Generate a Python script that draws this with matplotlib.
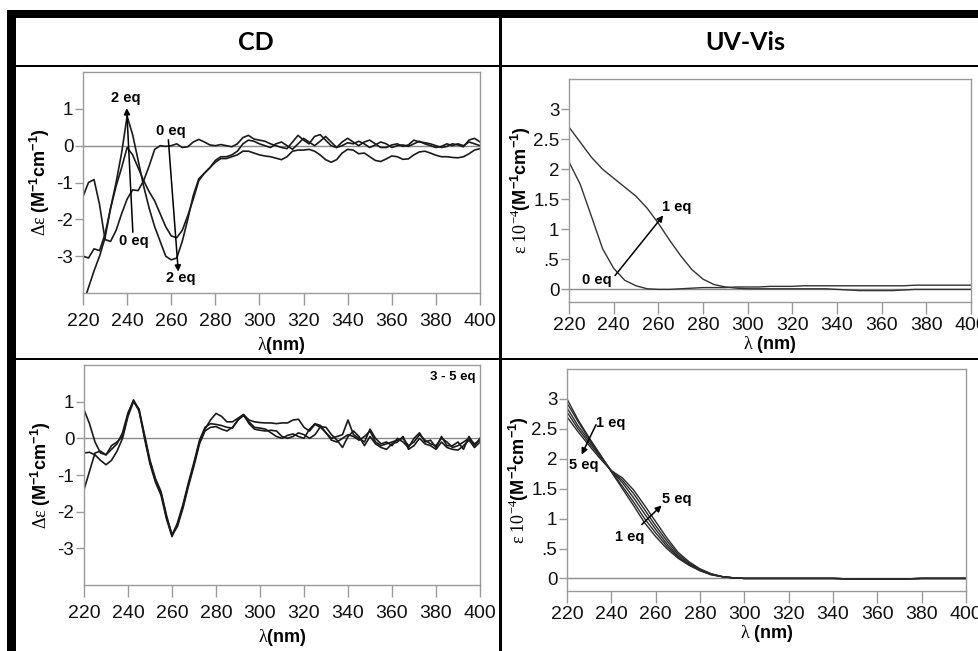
import numpy as np
import matplotlib
matplotlib.use("Agg")
import matplotlib.pyplot as plt
from matplotlib.patches import Rectangle
from matplotlib.ticker import FixedLocator, FixedFormatter

plt.rcParams['font.family'] = ['Liberation Sans', 'DejaVu Sans']
plt.rcParams['mathtext.fontset'] = 'custom'
plt.rcParams['mathtext.rm'] = 'Liberation Serif'
plt.rcParams['mathtext.it'] = 'Liberation Serif:italic'
plt.rcParams['mathtext.bf'] = 'Liberation Sans:bold'
plt.rcParams['mathtext.sf'] = 'Liberation Sans'

# ---------------- data ----------------
# CD, 0-2 eq (wavelength grid 220..400 step 2.5 nm)
cd_wl = np.arange(220, 400.01, 2.5)
cd_0eq = [-1.38, -1.0, -0.92, -1.6, -2.55, -2.6, -2.3, -1.85, -1.45, -1.2, -1.22, -0.95,
          -0.55, -0.1, 0.0, -0.02, 0.0, 0.05, -0.05, -0.03, 0.1, 0.17, 0.1, 0.02, 0.0,
          0.03, 0.0, -0.03, 0.05, 0.22, 0.28, 0.18, 0.15,
          0.12, 0.05, 0.0, -0.05, -0.08, 0.1, 0.28, 0.15, 0.05, 0.25, 0.3, 0.15, 0.0,
          -0.05, 0.1, 0.2, 0.1, 0.0, 0.1, 0.15, 0.05, -0.05, -0.05, 0.02, 0.05, -0.02,
          0.02, 0.15, 0.1, 0.08, 0.05, 0.0, -0.05, -0.02, 0.05, 0.02, -0.03, 0.15, 0.2, 0.1]
cd_1eq = [-3.0, -3.05, -2.8, -2.85, -2.4, -1.7, -1.1, -0.6, -0.05, -0.25, -0.6, -0.95,
          -1.25, -1.5, -1.85, -2.2, -2.45, -2.5, -2.3, -1.9, -1.45, -0.95, -0.75, -0.6,
          -0.4, -0.3, -0.3, -0.25, -0.15, 0.05, 0.15, 0.12, 0.05,
          0.0, -0.05, 0.05, 0.1, 0.0, -0.1, 0.05, 0.2, 0.1, 0.0, 0.12, 0.25, 0.1, -0.05,
          0.0, 0.08, 0.05, 0.12, 0.05, -0.05, 0.02, 0.1, 0.05, -0.05, 0.0, 0.02, -0.02,
          0.05, 0.12, 0.05, 0.0, -0.05, -0.02, 0.05, 0.0, 0.05, 0.0, 0.1, 0.05, 0.0]
cd_2eq = [-4.3, -3.85, -3.4, -3.0, -2.5, -1.7, -1.0, -0.2, 0.8, 0.3, -0.4, -1.1, -1.7,
          -2.2, -2.6, -3.0, -3.1, -3.05, -2.6, -2.0, -1.35, -0.9, -0.75, -0.6, -0.45,
          -0.35, -0.35, -0.3, -0.25, -0.15, -0.15, -0.2, -0.25,
          -0.28, -0.3, -0.34, -0.38, -0.3, -0.15, -0.12, -0.12, -0.1, -0.15, -0.25,
          -0.38, -0.45, -0.38, -0.2, -0.1, -0.12, -0.22, -0.2, -0.3, -0.4, -0.43, -0.36,
          -0.28, -0.3, -0.37, -0.36, -0.25, -0.17, -0.15, -0.2, -0.26, -0.3, -0.3, -0.32,
          -0.33, -0.3, -0.22, -0.12, -0.08]

# CD, 3-5 eq
cd_3eq = [0.78, 0.4, -0.1, -0.4, -0.45, -0.3, -0.15, 0.15, 0.7, 1.02, 0.75, 0.05, -0.65,
          -1.15, -1.5, -2.15, -2.62, -2.35, -1.85, -1.25, -0.7, -0.1, 0.25, 0.5, 0.68,
          0.6, 0.45, 0.45, 0.55, 0.65, 0.5, 0.45, 0.43,
          0.42, 0.42, 0.4, 0.42, 0.42, 0.5, 0.52, 0.3, 0.2, 0.38, 0.3, 0.15, 0.0, 0.05,
          0.1, 0.5, 0.1, 0.0, -0.1, 0.25, 0.0, -0.15, -0.1, -0.2, 0.0, -0.1, -0.25, 0.0,
          0.15, -0.1, -0.05, -0.25, 0.05, -0.2, -0.2, -0.1, -0.3, 0.05, -0.2, 0.0]
cd_4eq = [-0.4, -0.38, -0.45, -0.6, -0.72, -0.6, -0.35, 0.0, 0.6, 1.0, 0.8, 0.1, -0.6,
          -1.1, -1.45, -2.1, -2.65, -2.4, -1.9, -1.3, -0.75, -0.15, 0.2, 0.3, 0.32, 0.25,
          0.2, 0.3, 0.5, 0.62, 0.45, 0.3, 0.28,
          0.25, 0.15, 0.05, 0.0, 0.08, 0.12, 0.05, 0.0, 0.25, 0.4, 0.35, 0.15, -0.05,
          -0.1, 0.0, 0.1, 0.05, -0.05, 0.05, 0.2, -0.1, -0.2, -0.15, -0.1, -0.05, 0.0,
          -0.2, -0.1, 0.1, -0.05, -0.15, -0.2, 0.0, -0.1, -0.25, -0.2, -0.1, 0.0, -0.15, -0.05]
cd_5eq = [-1.4, -0.9, -0.4, -0.35, -0.45, -0.2, -0.1, 0.05, 0.65, 1.05, 0.78, 0.0, -0.7,
          -1.2, -1.55, -2.2, -2.68, -2.3, -1.8, -1.2, -0.65, -0.05, 0.3, 0.4, 0.38, 0.35,
          0.3, 0.28, 0.5, 0.65, 0.4, 0.25, 0.22,
          0.2, 0.22, 0.2, 0.05, 0.0, 0.05, 0.15, 0.1, 0.0, 0.1, 0.32, 0.3, 0.1, -0.05,
          -0.25, 0.05, 0.2, 0.05, -0.2, 0.05, -0.15, -0.25, -0.3, -0.15, -0.1, 0.05, -0.3,
          -0.2, 0.0, -0.15, -0.2, -0.3, -0.1, -0.25, -0.3, -0.32, -0.2, -0.05, -0.25, -0.1]

# UV-Vis (wavelength grid 220..400 step 5 nm), values in 10^4 M-1 cm-1
uv_wl = np.arange(220, 400.01, 5)
uv_0eq = [2.12, 1.75, 1.22, 0.68, 0.35, 0.15, 0.06, 0.01, 0.0, 0.0, 0.01, 0.02, 0.03,
          0.03, 0.03, 0.04, 0.04, 0.04, 0.05, 0.05, 0.05, 0.06, 0.06, 0.06, 0.06, 0.06,
          0.06, 0.06, 0.06, 0.06, 0.06, 0.07, 0.07, 0.07, 0.07, 0.07, 0.07]
uv_1eq_a = [2.7, 2.45, 2.2, 2.0, 1.85, 1.7, 1.55, 1.35, 1.1, 0.82, 0.56, 0.33, 0.17,
            0.08, 0.04, 0.02, 0.01, 0.01, 0.01, 0.01, 0.01, 0.01, 0.01, 0.01, 0.0, -0.01,
            -0.02, -0.02, -0.02, -0.02, -0.01, 0.0, 0.0, 0.0, 0.0, 0.0, 0.0]

uv_tail = [0.0, 0.0, 0.0, 0.0, 0.0, 0.0, 0.0, 0.0, -0.005, -0.01, -0.01, -0.01, -0.01,
           -0.01, -0.005, 0.0, 0.0, 0.0, 0.0, 0.0]
uv_1eq = [3.0, 2.65, 2.35, 2.07, 1.78, 1.5, 1.22, 0.93, 0.7, 0.5, 0.34, 0.22, 0.13,
          0.06, 0.03, 0.01, 0.0]
uv_2eq = [2.93, 2.62, 2.33, 2.06, 1.79, 1.54, 1.28, 1.0, 0.76, 0.54, 0.36, 0.23, 0.13,
          0.065, 0.03, 0.01, 0.0]
uv_3eq = [2.85, 2.55, 2.3, 2.05, 1.8, 1.6, 1.35, 1.08, 0.82, 0.58, 0.38, 0.24, 0.14,
          0.07, 0.03, 0.01, 0.0]
uv_4eq = [2.78, 2.5, 2.26, 2.03, 1.8, 1.64, 1.42, 1.15, 0.88, 0.63, 0.41, 0.26, 0.15,
          0.075, 0.03, 0.01, 0.0]
uv_5eq = [2.7, 2.45, 2.22, 2.0, 1.8, 1.68, 1.48, 1.22, 0.95, 0.68, 0.44, 0.28, 0.16,
          0.08, 0.03, 0.01, 0.0]

x_ticks = [220, 240, 260, 280, 300, 320, 340, 360, 380, 400]
cd_yticks = [-3, -2, -1, 0, 1]
cd_ylabels = ['-3', '-2', '-1', '0', '1']
uv_yticks = [0, 0.5, 1, 1.5, 2, 2.5, 3]
uv_ylabels = ['0', '.5', '1', '1.5', '2', '2.5', '3']

# ---------------- figure ----------------
W, H = 979, 651
fig = plt.figure(figsize=(W / 100, H / 100), dpi=100)
fig.patch.set_facecolor('white')


def ax_px(x0, y0, x1, y1):
    return fig.add_axes([x0 / W, 1 - y1 / H, (x1 - x0) / W, (y1 - y0) / H])


def rect_px(x0, y0, x1, y1):
    fig.add_artist(Rectangle((x0 / W, 1 - y1 / H), (x1 - x0) / W, (y1 - y0) / H,
                             transform=fig.transFigure, facecolor='black',
                             edgecolor='none', zorder=20))


SPINE = '#9a9a9a'
LINE = '#1a1a1a'


def style(ax, kind):
    ax.set_xlim(220, 400)
    for s in ax.spines.values():
        s.set_color(SPINE)
        s.set_linewidth(1.0)
    ax.xaxis.set_major_locator(FixedLocator(x_ticks))
    ax.tick_params(axis='x', direction='out', length=8.5, width=1.0, color=SPINE,
                   labelsize=14, pad=6 if kind == 'cd' else 2, labelcolor='#111')
    ax.tick_params(axis='y', direction='out', length=6, width=1.0, color=SPINE,
                   labelsize=13.5, pad=1, labelcolor='#111')
    ax.axhline(0, color='#8a8a8a', lw=1.0, zorder=1)
    if kind == 'cd':
        ax.set_ylim(-4, 2)
        ax.yaxis.set_major_locator(FixedLocator(cd_yticks))
        ax.yaxis.set_major_formatter(FixedFormatter(cd_ylabels))
        ax.set_ylabel(r'$\mathrm{Δε}\ \mathbf{(M^{-1}cm^{-1})}$', fontsize=13, labelpad=3)
        ax.set_xlabel(r'$\mathrm{λ}\mathbf{(nm)}$', fontsize=13, labelpad=3.5)
    else:
        ax.set_ylim(-0.21, 3.5)
        ax.yaxis.set_major_locator(FixedLocator(uv_yticks))
        ax.yaxis.set_major_formatter(FixedFormatter(uv_ylabels))
        ax.set_ylabel(r'$\mathrm{ε\ 10^{-4}}\mathbf{(M^{-1}cm^{-1})}$', fontsize=13, labelpad=0)
        ax.set_xlabel(r'$\mathrm{λ}\ \mathbf{(nm)}$', fontsize=13, labelpad=0.5)


arrow_kw = dict(arrowstyle='-|>', color='black', lw=1.1, mutation_scale=9,
                shrinkA=0, shrinkB=0)
lab_kw = dict(fontsize=10.5, fontweight='bold', ha='center', va='center')

# top-left: CD 0-2 eq
ax1 = ax_px(83, 72, 480, 293)
style(ax1, 'cd')
for ys in (cd_0eq, cd_1eq, cd_2eq):
    ax1.plot(cd_wl, ys, color=LINE, lw=1.2)
ax1.annotate('', xy=(239.8, 1.02), xytext=(242.6, -2.35), arrowprops=arrow_kw)
ax1.text(239.5, 1.3, '2 eq', **lab_kw)
ax1.text(243, -2.58, '0 eq', **lab_kw)
ax1.annotate('', xy=(263.2, -3.42), xytext=(258.7, 0.16), arrowprops=arrow_kw)
ax1.text(260, 0.4, '0 eq', **lab_kw)
ax1.text(264.5, -3.6, '2 eq', **lab_kw)

# top-right: UV 0-1 eq
ax2 = ax_px(569, 79, 971, 302)
style(ax2, 'uv')
ax2.plot(uv_wl, uv_0eq, color='#333', lw=1.0)
ax2.plot(uv_wl, uv_1eq_a, color='#333', lw=1.0)
ax2.annotate('', xy=(262.2, 1.23), xytext=(240.6, 0.23), arrowprops=arrow_kw)
ax2.text(268, 1.37, '1 eq', **lab_kw)
ax2.text(232.5, 0.15, '0 eq', **lab_kw)

# bottom-left: CD 3-5 eq
ax3 = ax_px(84, 365, 480, 585)
style(ax3, 'cd')
for ys in (cd_3eq, cd_4eq, cd_5eq):
    ax3.plot(cd_wl, ys, color=LINE, lw=1.2)
ax3.text(387.5, 1.67, '3 - 5 eq', fontsize=9.5, fontweight='bold', ha='center', va='center')

# bottom-right: UV 1-5 eq
ax4 = ax_px(567, 369, 966, 591)
style(ax4, 'uv')
for ys in (uv_1eq, uv_2eq, uv_3eq, uv_4eq, uv_5eq):
    ax4.plot(uv_wl, list(ys) + uv_tail, color='#2a2a2a', lw=1.0)
ax4.annotate('', xy=(226.6, 2.07), xytext=(233.1, 2.57), arrowprops=arrow_kw)
ax4.text(239.5, 2.6, '1 eq', **lab_kw)
ax4.text(227.5, 1.9, '5 eq', **lab_kw)
ax4.annotate('', xy=(262.7, 1.22), xytext=(253.7, 0.9), arrowprops=arrow_kw)
ax4.text(269.5, 1.32, '5 eq', **lab_kw)
ax4.text(248.5, 0.7, '1 eq', **lab_kw)

# table frame
rect_px(7, 10, 16, 651)
rect_px(7, 10, 979, 18)
rect_px(16, 65, 979, 67)
rect_px(16, 358, 979, 360.5)
rect_px(499, 18, 501.5, 651)

hdr = dict(fontsize=18, fontweight='bold', family=['Lato', 'DejaVu Sans'],
           ha='center', va='center', transform=fig.transFigure)
fig.text(256 / W, 1 - 42 / H, 'CD', **hdr)
fig.text(745 / W, 1 - 42 / H, 'UV-Vis', **hdr)

fig.savefig('out.png', dpi=100, facecolor='white')
